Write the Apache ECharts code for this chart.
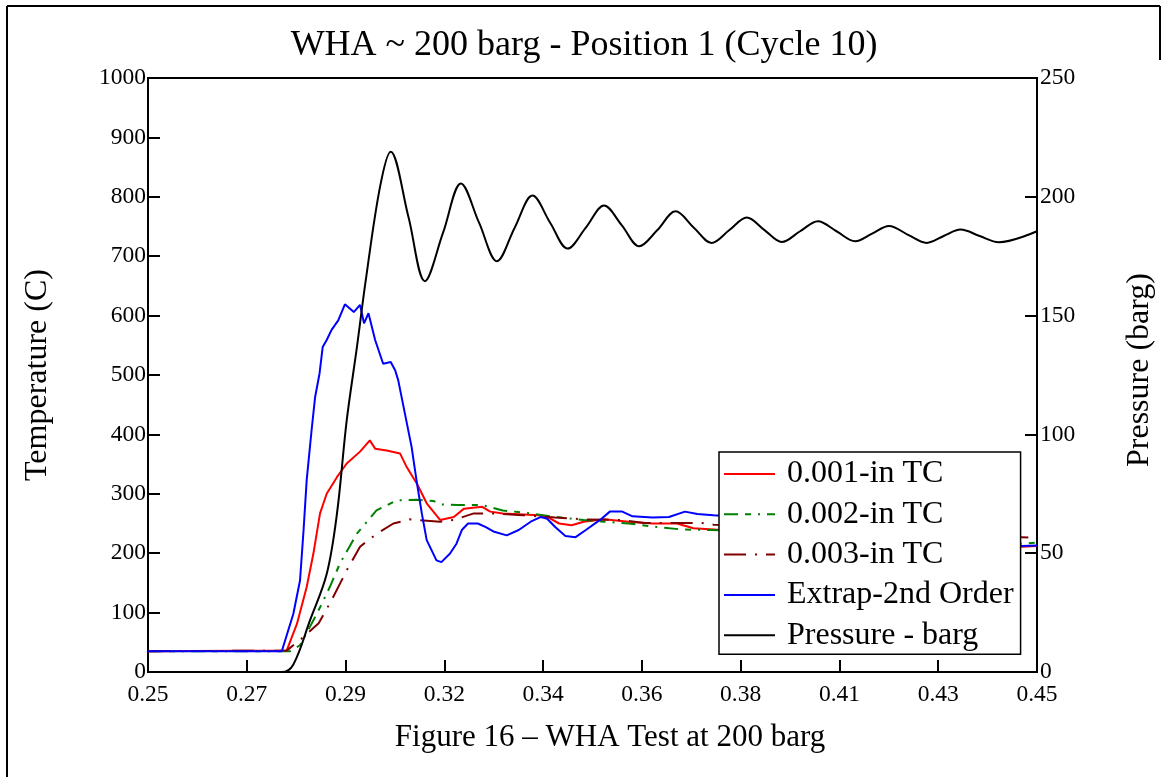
<!DOCTYPE html>
<html>
<head>
<meta charset="utf-8">
<script src="https://cdn.jsdelivr.net/npm/echarts@6/dist/echarts.min.js"></script>
<style>
  html, body { margin: 0; padding: 0; background: #fff; }
  #chart { width: 1168px; height: 777px; }
</style>
</head>
<body>
<div id="chart"></div>
<script>
// Time axis (s) and its tick labels
const xTickLabels = ['0.25', '0.27', '0.29', '0.32', '0.34', '0.36', '0.38', '0.41', '0.43', '0.45'];
const xMin = 0.25, xMax = 0.45;

// 0.001-in thermocouple (C)
const tc001Time = [0.25, 0.2812, 0.2835, 0.2857, 0.2872, 0.2887, 0.2902, 0.2925, 0.2947, 0.2977, 0.2999, 0.3011, 0.3037, 0.3067, 0.3082, 0.3105, 0.3127, 0.3157, 0.3188, 0.3211, 0.3252, 0.3270, 0.3298, 0.3380, 0.3398, 0.3425, 0.3453, 0.3480, 0.3526, 0.3581, 0.3635, 0.3690, 0.3727, 0.3773, 0.39, 0.41, 0.43, 0.4466, 0.45];
const tc001Temp = [35, 36, 81, 143, 199, 267, 300, 328, 351, 371, 390, 376, 373, 368, 345, 317, 284, 256, 261, 275, 278, 270, 267, 264, 261, 250, 247, 253, 257, 253, 250, 250, 242, 240, 233, 225, 218, 211, 212];

// 0.002-in thermocouple (C)
const tc002Time = [0.25, 0.2820, 0.2842, 0.2880, 0.2909, 0.2932, 0.2970, 0.3014, 0.3060, 0.3105, 0.3142, 0.3160, 0.3197, 0.3252, 0.3298, 0.3362, 0.3407, 0.3480, 0.3526, 0.3581, 0.3645, 0.3700, 0.3764, 0.39, 0.41, 0.43, 0.4466, 0.45];
const tc002Temp = [35, 35, 45, 98, 143, 183, 233, 272, 289, 290, 288, 282, 281, 281, 272, 267, 262, 256, 253, 250, 244, 240, 239, 236, 230, 224, 216, 218];

// 0.003-in thermocouple (C)
const tc003Time = [0.25, 0.2812, 0.2850, 0.2884, 0.2913, 0.2947, 0.2977, 0.3015, 0.3052, 0.3089, 0.3157, 0.3188, 0.3233, 0.3279, 0.3343, 0.3416, 0.3481, 0.3562, 0.3617, 0.3690, 0.3745, 0.3773, 0.39, 0.41, 0.43, 0.4466, 0.45];
const tc003Temp = [35, 36, 59, 82, 121, 171, 211, 233, 250, 257, 253, 256, 267, 267, 264, 260, 257, 256, 251, 251, 251, 248, 245, 238, 232, 227, 226];

// Second-order extrapolated gas temperature (C)
const extrapTime = [0.25, 0.2801, 0.2827, 0.2842, 0.2850, 0.2857, 0.2868, 0.2876, 0.2886, 0.2893, 0.2902, 0.2913, 0.2928, 0.2943, 0.2954, 0.2963, 0.2977, 0.2986, 0.2996, 0.3011, 0.3029, 0.3046, 0.3056, 0.3063, 0.3078, 0.3093, 0.3104, 0.3116, 0.3127, 0.3149, 0.3160, 0.3179, 0.3194, 0.3206, 0.3220, 0.3242, 0.3260, 0.3279, 0.3307, 0.3334, 0.3361, 0.3384, 0.3398, 0.3416, 0.3439, 0.3462, 0.3485, 0.3517, 0.3539, 0.3567, 0.3590, 0.3635, 0.3672, 0.3708, 0.3736, 0.3772, 0.39, 0.41, 0.43, 0.4466, 0.45];
const extrapTemp = [35, 35, 98, 154, 239, 323, 407, 463, 503, 547, 559, 576, 592, 619, 612, 606, 618, 587, 604, 559, 519, 522, 508, 491, 435, 379, 323, 267, 222, 188, 185, 199, 216, 239, 250, 250, 244, 236, 230, 239, 253, 261, 258, 244, 229, 227, 239, 256, 270, 270, 262, 260, 261, 270, 266, 264, 258, 245, 228, 212, 213];

// Pressure (barg)
const pressTime = [0.25, 0.2801, 0.2827, 0.2864, 0.2902, 0.2925, 0.2947, 0.2970, 0.2990, 0.3022, 0.3046, 0.3086, 0.3123, 0.3164, 0.3204, 0.3245, 0.3285, 0.3325, 0.3365, 0.3405, 0.3444, 0.3485, 0.3526, 0.3566, 0.3605, 0.3646, 0.3687, 0.3728, 0.3768, 0.3808, 0.3847, 0.3887, 0.3926, 0.3967, 0.4007, 0.4049, 0.4091, 0.4129, 0.4167, 0.4210, 0.4252, 0.4290, 0.4328, 0.4371, 0.4414, 0.45];
const pressBarg = [0, 0, 3.2, 21.5, 41.2, 66.5, 105.8, 136.7, 165, 204.2, 219, 191.5, 164.5, 185, 205.6, 189, 172.9, 187, 200.5, 189, 178.2, 187, 196.3, 188, 179.2, 186, 193.9, 187, 180.6, 186, 191.3, 186, 181.0, 185.5, 189.7, 185.5, 181.3, 184.5, 187.7, 184, 180.6, 183.5, 186.2, 183.5, 180.9, 185.5];

const seriesNames = ['0.001-in TC', '0.002-in TC', '0.003-in TC', 'Extrap-2nd Order', 'Pressure - barg'];

const pairs = (xs, ys) => xs.map((x, i) => [x, ys[i]]);
const xTickValues = xTickLabels.map((_, i) => xMin + i * (xMax - xMin) / (xTickLabels.length - 1));

const FONT = 'Liberation Serif';
const chart = echarts.init(document.getElementById('chart'), null, { renderer: 'canvas' });

const tickStyle = { color: '#000', width: 2 };
const labelFont = { fontFamily: FONT, fontSize: 23.5, color: '#000' };

chart.setOption({
  backgroundColor: '#fff',
  animation: false,
  title: {
    text: 'WHA ~ 200 barg - Position 1 (Cycle 10)',
    left: 'center',
    top: 28,
    padding: 0,
    textStyle: { fontFamily: FONT, fontSize: 36, fontWeight: 'normal', color: '#000' }
  },
  grid: {
    left: 148, right: 131, top: 78, bottom: 105,
    show: true, borderColor: '#000', borderWidth: 2, backgroundColor: 'transparent'
  },
  legend: {
    orient: 'vertical',
    left: 719, top: 452,
    data: seriesNames,
    backgroundColor: '#fff',
    borderColor: '#000',
    borderWidth: 1.5,
    borderRadius: 0,
    padding: [6, 7, 3, 4],
    itemWidth: 51,
    itemHeight: 14,
    itemGap: 8.3,
    itemStyle: { opacity: 0 },
    textStyle: { fontFamily: FONT, fontSize: 32, color: '#000', lineHeight: 30, padding: [0, 0, 0, 7] }
  },
  xAxis: {
    type: 'value',
    min: xMin, max: xMax,
    axisLine: { show: true, onZero: false, lineStyle: tickStyle },
    axisTick: { show: true, inside: true, length: 12, customValues: xTickValues, lineStyle: tickStyle },
    axisLabel: Object.assign({
      customValues: xTickValues,
      formatter: (v) => v.toFixed(2),
      margin: 11
    }, labelFont),
    splitLine: { show: false }
  },
  yAxis: [
    {
      type: 'value', position: 'left',
      min: 0, max: 1000, interval: 100,
      axisLine: { show: true, lineStyle: tickStyle },
      axisTick: { show: true, inside: true, length: 12, lineStyle: tickStyle },
      axisLabel: Object.assign({ formatter: (v) => String(v), margin: 2, padding: [7, 0, 0, 0] }, labelFont),
      splitLine: { show: false }
    },
    {
      type: 'value', position: 'right',
      min: 0, max: 250, interval: 50,
      axisLine: { show: true, lineStyle: tickStyle },
      axisTick: { show: true, inside: true, length: 12, lineStyle: tickStyle },
      axisLabel: Object.assign({ formatter: (v) => String(v), margin: 3, padding: [7, 0, 0, 0] }, labelFont),
      splitLine: { show: false }
    }
  ],
  series: [
    {
      name: seriesNames[0], type: 'line', yAxisIndex: 0, symbol: 'none',
      data: pairs(tc001Time, tc001Temp),
      lineStyle: { color: '#ff0000', width: 2 }, itemStyle: { color: '#ff0000' }
    },
    {
      name: seriesNames[1], type: 'line', yAxisIndex: 0, symbol: 'none',
      data: pairs(tc002Time, tc002Temp),
      lineStyle: { color: '#008000', width: 2, type: [14, 7, 6, 7, 2, 7] }, itemStyle: { color: '#008000' }
    },
    {
      name: seriesNames[2], type: 'line', yAxisIndex: 0, symbol: 'none',
      data: pairs(tc003Time, tc003Temp),
      lineStyle: { color: '#800000', width: 2, type: [22, 9, 2, 9] }, itemStyle: { color: '#800000' }
    },
    {
      name: seriesNames[3], type: 'line', yAxisIndex: 0, symbol: 'none',
      data: pairs(extrapTime, extrapTemp),
      lineStyle: { color: '#0000ff', width: 2 }, itemStyle: { color: '#0000ff' }
    },
    {
      name: seriesNames[4], type: 'line', yAxisIndex: 1, symbol: 'none', smooth: 0.35,
      data: pairs(pressTime, pressBarg),
      lineStyle: { color: '#000', width: 2 }, itemStyle: { color: '#000' }
    }
  ],
  graphic: [
    // page frame
    { type: 'line', shape: { x1: 7, y1: 6, x2: 1160, y2: 6 }, style: { stroke: '#000', lineWidth: 2 } },
    { type: 'line', shape: { x1: 7, y1: 6, x2: 7, y2: 777 }, style: { stroke: '#000', lineWidth: 2 } },
    { type: 'line', shape: { x1: 1160, y1: 6, x2: 1160, y2: 60 }, style: { stroke: '#000', lineWidth: 2 } },
    // axis titles and caption
    {
      type: 'text', x: 38, y: 375, rotation: Math.PI / 2,
      style: { text: 'Temperature (C)', font: '32px "Liberation Serif"', fill: '#000', align: 'center', verticalAlign: 'middle' }
    },
    {
      type: 'text', x: 1140, y: 370, rotation: Math.PI / 2,
      style: { text: 'Pressure (barg)', font: '32px "Liberation Serif"', fill: '#000', align: 'center', verticalAlign: 'middle' }
    },
    {
      type: 'text', x: 610, y: 738,
      style: { text: 'Figure 16 \u2013 WHA Test at 200 barg', font: '31px "Liberation Serif"', fill: '#000', align: 'center', verticalAlign: 'middle' }
    }
  ]
});
</script>
</body>
</html>
